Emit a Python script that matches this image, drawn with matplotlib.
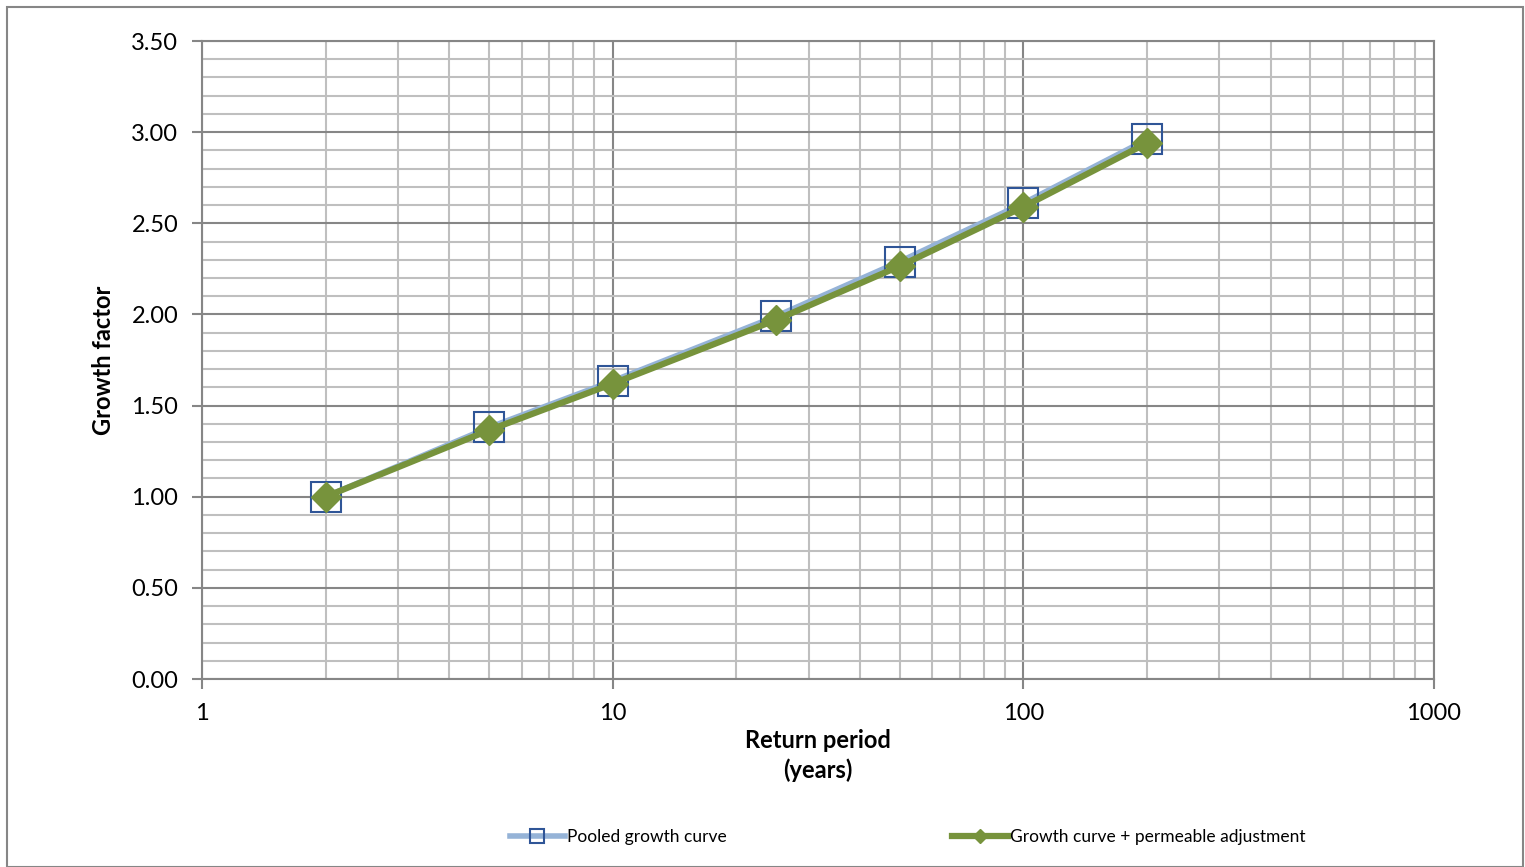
import matplotlib
matplotlib.use("Agg")
import matplotlib.pyplot as plt
from matplotlib.ticker import LogLocator, MultipleLocator, FixedFormatter, FixedLocator
from matplotlib.patches import Rectangle

plt.rcParams['font.family'] = ['Lato', 'DejaVu Sans']

# Data
return_period = [2, 5, 10, 25, 50, 100, 200]
pooled = [1.00, 1.38, 1.635, 1.99, 2.29, 2.61, 2.96]
permeable = [1.00, 1.365, 1.62, 1.97, 2.265, 2.59, 2.94]
x_ticks = [1, 10, 100, 1000]
x_labels = ["1", "10", "100", "1000"]

fig = plt.figure(figsize=(15.25, 8.67), dpi=100)
ax = fig.add_axes([202 / 1525, 1 - 679 / 867, (1434 - 202) / 1525, (679 - 41) / 867])

major_c = "#868686"
minor_c = "#BFBFBF"

ax.plot(return_period, pooled, color="#95B3D7", lw=4, marker="s", ms=22,
        mfc="none", mec="#2F5597", mew=1.5, label="Pooled growth curve", zorder=3)
ax.plot(return_period, permeable, color="#77933C", lw=4.5, marker="D", ms=15,
        mfc="#77933C", mec="#77933C", label="Growth curve + permeable adjustment", zorder=4)

ax.set_xscale("log")
ax.set_xlim(1, 1000)
ax.set_ylim(0, 3.5)
ax.xaxis.set_major_locator(FixedLocator(x_ticks))
ax.xaxis.set_major_formatter(FixedFormatter(x_labels))
ax.xaxis.set_minor_locator(LogLocator(base=10, subs=range(2, 10)))
ax.xaxis.set_minor_formatter(plt.NullFormatter())
ax.yaxis.set_major_locator(MultipleLocator(0.5))
ax.yaxis.set_minor_locator(MultipleLocator(0.1))
ax.yaxis.set_major_formatter(plt.FuncFormatter(lambda v, p: f"{v:.2f}"))

ax.grid(which="major", color=major_c, lw=1.5, zorder=1)
ax.grid(which="minor", color=minor_c, lw=1.5, zorder=0)
ax.set_axisbelow(True)

for s in ax.spines.values():
    s.set_color(major_c)
    s.set_linewidth(1.5)

ax.tick_params(which="major", length=7, width=1.5, color=major_c, labelsize=17, pad=10)
ax.tick_params(which="minor", length=0)
ax.tick_params(axis="x", pad=10)

ax.set_xlabel("Return period\n(years)", fontsize=17, fontweight="bold", labelpad=4, linespacing=1.3)
ax.set_ylabel("Growth factor", fontsize=17, fontweight="bold", labelpad=12)

fig.legend(loc="center", bbox_to_anchor=(0.595, 1 - 837 / 867), ncol=2, frameon=False,
           fontsize=12.5, handlelength=3.2, columnspacing=13, handletextpad=0.1,
           markerscale=0.45)

fig.patches.append(Rectangle((7 / 1525, 0), 1516 / 1525, 1 - 7 / 867, transform=fig.transFigure,
                             fill=False, ec=major_c, lw=1.5))

fig.savefig("out.png", dpi=100)
